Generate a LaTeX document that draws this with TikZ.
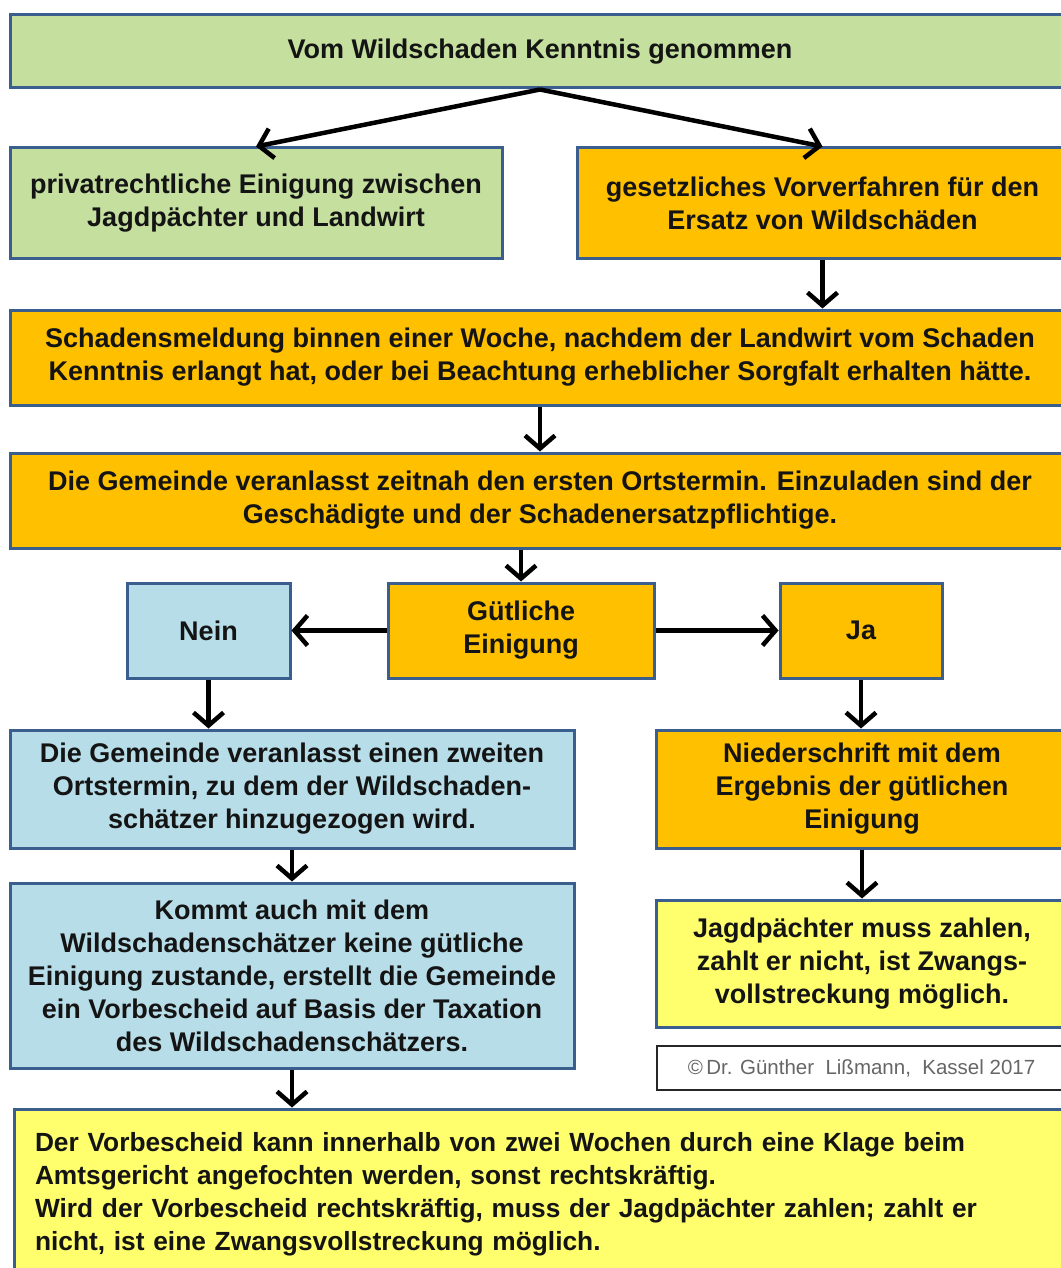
\documentclass[tikz,border=0pt]{standalone}
\usepackage{fontspec}
\setmainfont{Liberation Sans}
\usetikzlibrary{arrows.meta}

\definecolor{boxgreen}{HTML}{C4DF9E}
\definecolor{boxorange}{HTML}{FFC000}
\definecolor{boxblue}{HTML}{B7DDE8}
\definecolor{boxyellow}{HTML}{FFFF6E}
\definecolor{boxline}{HTML}{3A5F8F}
\definecolor{textdark}{HTML}{141414}

\begin{document}
\begin{tikzpicture}[x=1pt, y=-1pt,
    stepbox/.style={draw=boxline, line width=3pt, inner sep=0pt, align=center,
        text=textdark, font=\bfseries\fontsize{27}{33}\selectfont},
    flow/.style={line width=4.5pt, -{Straight Barb[length=13pt, width=30pt, line width=4.5pt]}}]

    \useasboundingbox (0,0) rectangle (1060,1268);

    % Top row
    \node[stepbox, fill=boxgreen, minimum width=1060, minimum height=73] (kenntnis) at (540,51.5)
        {Vom Wildschaden Kenntnis genommen};
    \node[stepbox, fill=boxgreen, minimum width=492, minimum height=110] (privat) at (256,203)
        {privatrechtliche Einigung zwischen\\Jagdpächter und Landwirt};
    \node[stepbox, fill=boxorange, minimum width=491, minimum height=110] (gesetz) at (822.5,203)
        {gesetzliches Vorverfahren für den\\Ersatz von Wildschäden};

    % Meldung and first appointment
    \node[stepbox, fill=boxorange, minimum width=1060, minimum height=95] (meldung) at (540,357.5)
        {Schadensmeldung binnen einer Woche, nachdem der Landwirt  vom Schaden\\Kenntnis erlangt hat, oder bei Beachtung erheblicher Sorgfalt erhalten hätte.};
    \node[stepbox, fill=boxorange, minimum width=1060, minimum height=95] (termin) at (540,500.5)
        {Die Gemeinde veranlasst zeitnah den ersten Ortstermin. Einzuladen sind der\\Geschädigte und der Schadenersatzpflichtige.};

    % Decision
    \node[stepbox, fill=boxblue, minimum width=163, minimum height=95] (nein) at (208.5,630.5) {Nein};
    \node[stepbox, fill=boxorange, minimum width=266, minimum height=95] (guetlich) at (521,630.5)
        {Gütliche\\Einigung};
    \node[stepbox, fill=boxorange, minimum width=162, minimum height=95] (ja) at (861,630.5) {Ja};

    % Left branch
    \node[stepbox, fill=boxblue, minimum width=564, minimum height=118] (zweiter) at (292,789)
        {Die Gemeinde veranlasst einen zweiten\\Ortstermin, zu dem der Wildschaden-\\schätzer hinzugezogen wird.};
    \node[stepbox, fill=boxblue, minimum width=564, minimum height=185] (vorbescheid) at (292,975.5)
        {Kommt auch mit dem\\Wildschadenschätzer keine gütliche\\Einigung zustande, erstellt die Gemeinde\\ein Vorbescheid auf Basis der Taxation\\des Wildschadenschätzers.};

    % Right branch
    \node[stepbox, fill=boxorange, minimum width=412, minimum height=118] (nieder) at (862,789)
        {Niederschrift mit dem\\Ergebnis der gütlichen\\Einigung};
    \node[stepbox, fill=boxyellow, minimum width=412, minimum height=127] (zahlen) at (862,963.5)
        {Jagdpächter muss zahlen,\\zahlt er nicht, ist Zwangs-\\vollstreckung möglich.};

    \node[draw=black!85, line width=2pt, fill=white, inner sep=0pt, minimum width=409, minimum height=44,
        text=black!60, font=\fontsize{20.5}{24}\selectfont] (copy) at (861.5,1068)
        {\textcopyright\,Dr. Günther\ \ Lißmann,\ \ Kassel 2017};

    % Bottom
    \node[stepbox, fill=boxyellow, minimum width=1060, minimum height=170, align=left, text width=1018,
        inner xsep=21pt, font=\bfseries\fontsize{26.3}{33}\selectfont] (klage) at (544,1194)
        {Der Vorbescheid kann innerhalb von zwei Wochen durch eine Klage beim\\Amtsgericht angefochten werden, sonst rechtskräftig.\\Wird der Vorbescheid rechtskräftig, muss der Jagdpächter zahlen; zahlt er\\nicht, ist eine Zwangsvollstreckung möglich.};

    % Connectors
    \draw[flow] (kenntnis.south) -- (privat.north);
    \draw[flow] (kenntnis.south) -- (gesetz.north);
    \draw[flow] (gesetz.south) -- (gesetz.south |- meldung.north);
    \draw[flow] (meldung.south) -- (termin.north);
    \draw[flow] (termin.south -| guetlich.north) -- (guetlich.north);
    \draw[flow] (guetlich.west) -- (nein.east);
    \draw[flow] (guetlich.east) -- (ja.west);
    \draw[flow] (nein.south) -- (nein.south |- zweiter.north);
    \draw[flow] (ja.south) -- (ja.south |- nieder.north);
    \draw[flow] (zweiter.south) -- (vorbescheid.north);
    \draw[flow] (nieder.south) -- (zahlen.north);
    \draw[flow] (vorbescheid.south) -- (vorbescheid.south |- klage.north);

\end{tikzpicture}
\end{document}
